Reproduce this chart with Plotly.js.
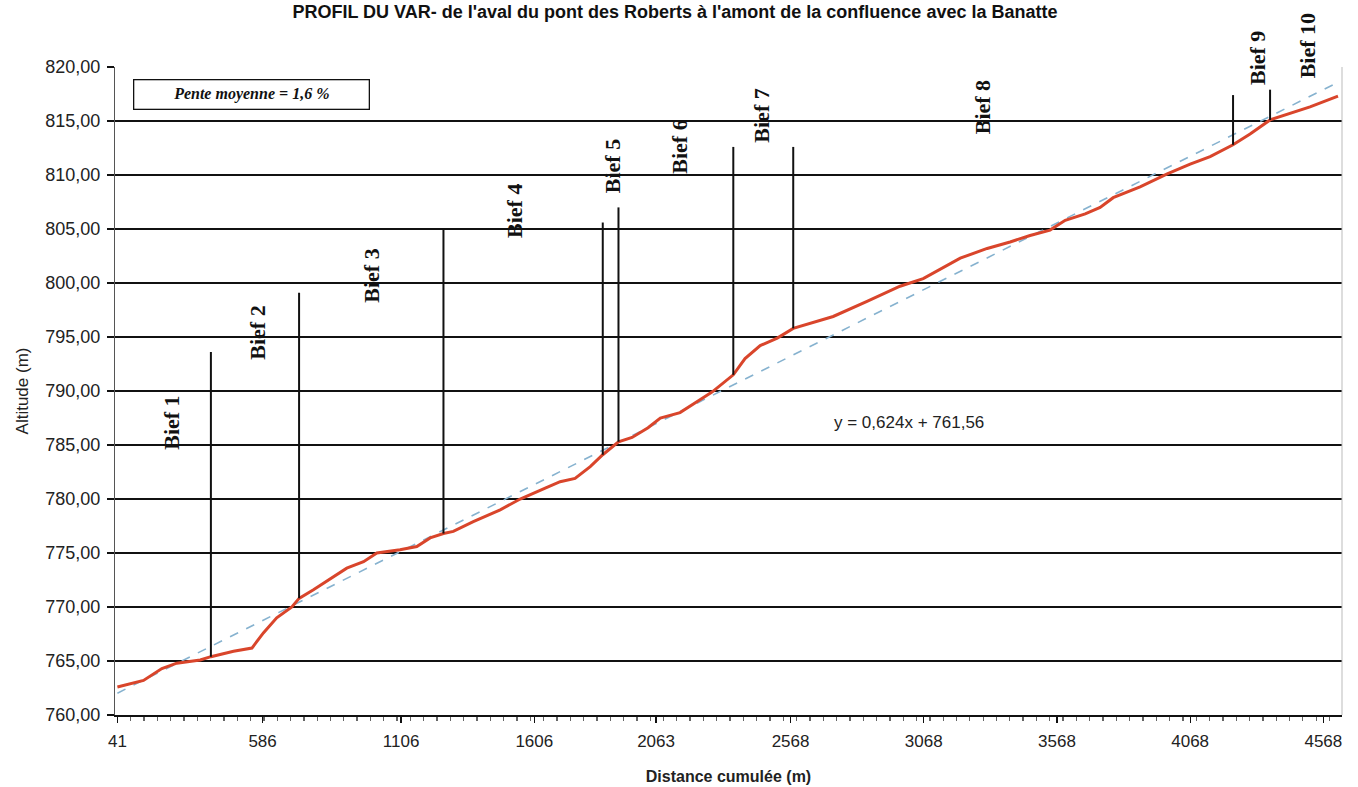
<!DOCTYPE html>
<html>
<head>
<meta charset="utf-8">
<script src="https://cdn.plot.ly/plotly-3.0.1.min.js"></script>
<style>html,body{margin:0;padding:0;background:#fff;}#chart{width:1358px;height:787px;}</style>
</head>
<body>
<div id="chart"></div>
<script>
// ---- Data ----
const distance = [41, 139, 208, 264, 352, 392, 477, 546, 589, 639, 696, 723, 777, 852, 902, 965, 1015, 1102, 1165, 1215, 1265, 1302, 1377, 1478, 1553, 1647, 1703, 1759, 1816, 1863, 1922, 1973, 2033, 2079, 2153, 2228, 2273, 2353, 2397, 2454, 2518, 2578, 2728, 2855, 2979, 3066, 3205, 3306, 3392, 3467, 3542, 3599, 3674, 3730, 3779, 3880, 3982, 4068, 4143, 4229, 4293, 4368, 4443, 4518, 4623];
const altitude = [762.6, 763.2, 764.3, 764.8, 765.1, 765.4, 765.9, 766.2, 767.6, 769.0, 770.0, 770.8, 771.6, 772.8, 773.6, 774.2, 775.0, 775.3, 775.6, 776.4, 776.8, 777.0, 777.9, 779.0, 780.0, 781.0, 781.6, 781.9, 783.0, 784.1, 785.3, 785.7, 786.6, 787.5, 788.0, 789.2, 789.9, 791.5, 793.0, 794.2, 794.9, 795.8, 796.9, 798.3, 799.7, 800.4, 802.3, 803.2, 803.8, 804.4, 804.9, 805.8, 806.4, 807.0, 807.9, 808.9, 810.1, 811.0, 811.7, 812.8, 813.8, 815.1, 815.7, 816.3, 817.3];

const biefBoundaryDistance = [392, 723, 1265, 1863, 1922, 2353, 2578, 4229, 4368];
const biefBoundaryTop = [793.6, 799.1, 805.0, 805.6, 807.0, 812.6, 812.6, 817.4, 817.9];
const biefBoundaryBottom = [765.4, 770.8, 776.8, 784.1, 785.3, 791.5, 795.8, 812.8, 815.1];
const biefNames = ['Bief 1', 'Bief 2', 'Bief 3', 'Bief 4', 'Bief 5', 'Bief 6', 'Bief 7', 'Bief 8', 'Bief 9', 'Bief 10'];

const xTickValues = [41, 586, 1106, 1606, 2063, 2568, 3068, 3568, 4068, 4568];
const yTickValues = [760, 765, 770, 775, 780, 785, 790, 795, 800, 805, 810, 815, 820];

const chartTitle = "PROFIL DU VAR- de l'aval du pont des Roberts à l'amont de la confluence avec la Banatte";
const slopeText = 'Pente moyenne = 1,6 %';
const trendText = 'y = 0,624x + 761,56';

// ---- Trend line: least-squares fit of the profile ----
const n = distance.length;
const mx = distance.reduce((a,b)=>a+b,0)/n;
const my = altitude.reduce((a,b)=>a+b,0)/n;
let sxy = 0, sxx = 0;
for (let i = 0; i < n; i++) { sxy += (distance[i]-mx)*(altitude[i]-my); sxx += (distance[i]-mx)**2; }
const slope = sxy/sxx, intercept = my - slope*mx;
const trendX = [distance[0], distance[n-1]];
const trendY = trendX.map(x => intercept + slope*x);

// ---- Layout-only label positions: x in data units, y in paper units ----
const biefLabelX = [246, 569, 997, 1534, 1898, 2153, 2461, 3287, 4323, 4507];
const biefLabelYPaper = [0.451, 0.590, 0.678, 0.778, 0.847, 0.877, 0.925, 0.938, 1.014, 1.032];

const sans = '"Liberation Sans", Arial, sans-serif';
const serif = '"Liberation Serif", "Times New Roman", serif';

const traces = [
  {
    x: trendX, y: trendY, type: 'scatter', mode: 'lines',
    line: {color: '#86b2cf', width: 1.6, dash: 'dash'},
    hoverinfo: 'skip', showlegend: false
  },
  {
    x: distance, y: altitude, type: 'scatter', mode: 'lines',
    line: {color: '#d9452b', width: 3},
    showlegend: false
  }
];

const shapes = biefBoundaryDistance.map((d, i) => ({
  type: 'line', xref: 'x', yref: 'y',
  x0: d, x1: d, y0: biefBoundaryBottom[i], y1: biefBoundaryTop[i],
  line: {color: '#111', width: 2}
}));

const annotations = biefNames.map((name, i) => ({
  x: biefLabelX[i], y: biefLabelYPaper[i], xref: 'x', yref: 'paper',
  xanchor: 'center', yanchor: 'middle',
  text: '<b>' + name + '</b>', showarrow: false, textangle: -90,
  font: {family: serif, size: 22, color: '#111'}
}));
annotations.push({
  x: 543, y: 817.5, xref: 'x', yref: 'y', xanchor: 'center', yanchor: 'middle',
  text: '<b><i>' + slopeText + '</i></b>', showarrow: false,
  width: 234, height: 28, bordercolor: '#111', borderwidth: 1.3, borderpad: 0,
  bgcolor: '#fff', font: {family: serif, size: 16, color: '#111'}
});
annotations.push({
  x: 3013, y: 787.1, xref: 'x', yref: 'y', xanchor: 'center', yanchor: 'middle',
  text: trendText, showarrow: false,
  font: {family: sans, size: 17, color: '#222'}
});

const layout = {
  width: 1358, height: 787,
  paper_bgcolor: '#fff', plot_bgcolor: '#fff',
  margin: {l: 115, r: 16, t: 67, b: 72},
  title: {
    text: '<b>' + chartTitle + '</b>',
    x: 0.497, xanchor: 'center', y: 0.993, yref: 'container', yanchor: 'top',
    font: {family: sans, size: 18, color: '#111'}
  },
  xaxis: {
    type: 'linear', range: [32, 4638],
    tickmode: 'array', tickvals: xTickValues, ticktext: xTickValues.map(String),
    ticks: 'outside', ticklen: 6, tickcolor: '#111', tickwidth: 1.3,
    minor: {tickmode: 'linear', tick0: 41, dtick: 50, ticks: 'outside', ticklen: 4, tickcolor: '#666', showgrid: false},
    showgrid: false, zeroline: false,
    showline: true, linecolor: '#111', linewidth: 2, mirror: false,
    ticklabelstandoff: 4,
    tickfont: {family: sans, size: 17, color: '#222'},
    title: {text: '<b>Distance cumulée (m)</b>', font: {family: sans, size: 16, color: '#222'}, standoff: 20}
  },
  yaxis: {
    range: [760, 820],
    tickmode: 'array', tickvals: yTickValues, ticktext: yTickValues.map(v => v.toFixed(2).replace('.', ',')),
    ticks: 'outside', ticklen: 7, tickcolor: '#111', tickwidth: 1.3,
    showgrid: true, gridcolor: '#111', gridwidth: 1.8,
    zeroline: false, showline: true, linecolor: '#555', linewidth: 1, mirror: false,
    ticklabelstandoff: 3,
    tickfont: {family: sans, size: 18, color: '#222'},
    title: {text: 'Altitude (m)', font: {family: sans, size: 17, color: '#222'}, standoff: 12}
  },
  shapes: shapes.concat([{
    type: 'line', xref: 'paper', yref: 'paper', x0: 1, x1: 1, y0: 0, y1: 1,
    line: {color: '#bbb', width: 1}
  }]),
  annotations: annotations
};

Plotly.newPlot('chart', traces, layout, {displayModeBar: false, staticPlot: true});
</script>
</body>
</html>
